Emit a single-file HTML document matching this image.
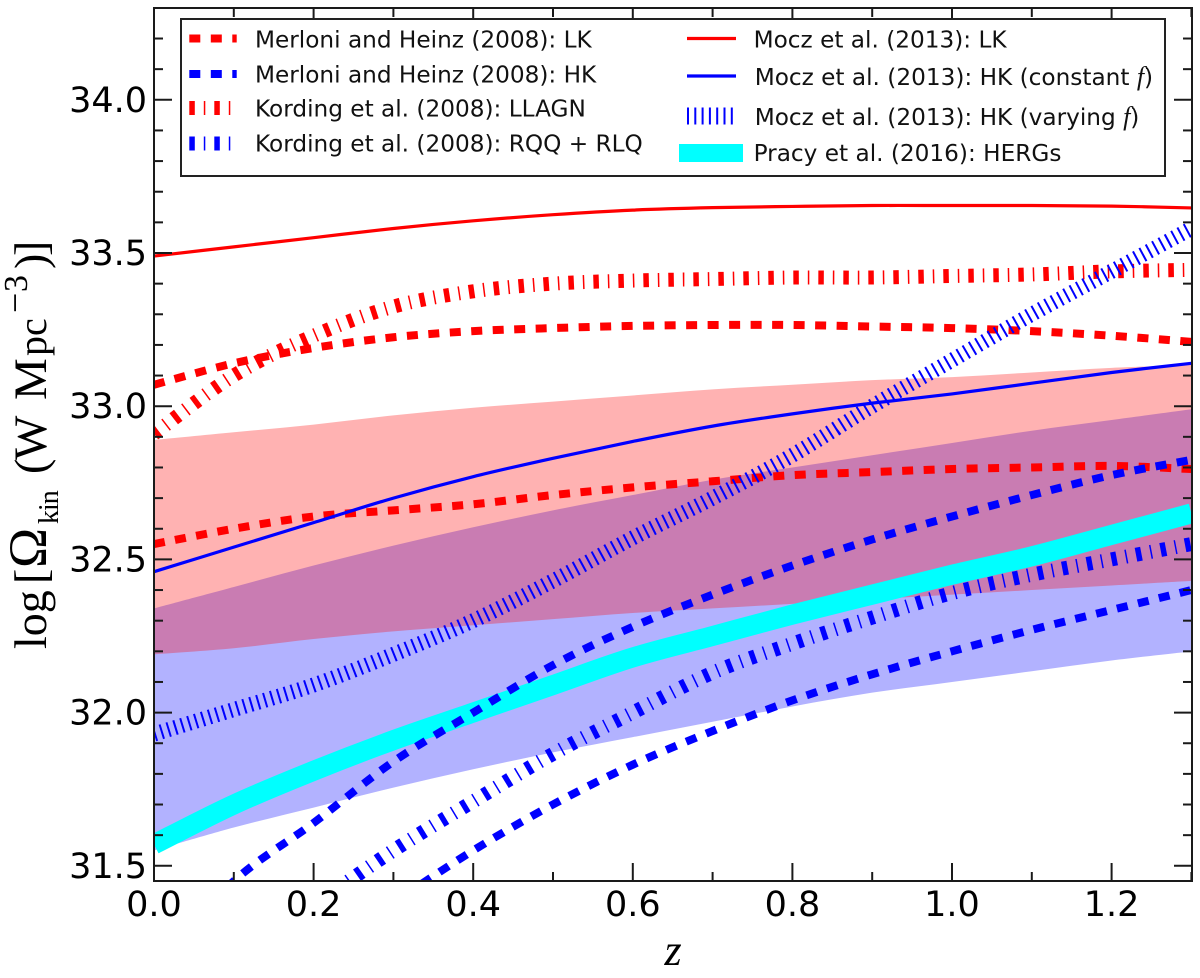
<!DOCTYPE html>
<html lang="en">
<head>
<meta charset="utf-8">
<title>Kinetic luminosity density vs redshift</title>
<style>
html,body{margin:0;padding:0;background:#fff;width:1200px;height:978px;overflow:hidden}
svg{display:block}
.tick{font-family:"DejaVu Sans",sans-serif;font-size:35px;fill:#000}
.leg{font-family:"DejaVu Sans",sans-serif;font-size:23.2px;fill:#111}
.math{font-family:"Liberation Serif",serif;fill:#000}
</style>
</head>
<body>
<svg id="chart" xmlns="http://www.w3.org/2000/svg" width="1200" height="978" viewBox="0 0 1200 978"></svg>
<script>
const zValues = [0,0.1,0.2,0.3,0.4,0.5,0.6,0.7,0.8,0.9,1.0,1.1,1.2,1.3];
const bandBlueUpper = [32.34,32.41,32.48,32.545,32.605,32.66,32.71,32.76,32.80,32.84,32.88,32.92,32.955,32.99];
const bandBlueLower = [31.55,31.625,31.69,31.755,31.815,31.87,31.92,31.97,32.02,32.065,32.10,32.135,32.17,32.20];
const bandRedUpper = [32.89,32.915,32.94,32.97,32.995,33.015,33.035,33.055,33.07,33.085,33.095,33.11,33.125,33.135];
const bandRedLower = [32.19,32.21,32.24,32.265,32.285,32.305,32.325,32.34,32.355,32.37,32.385,32.40,32.415,32.43];
const pracyHergs = [31.57,31.70,31.81,31.91,32.00,32.09,32.18,32.25,32.32,32.385,32.45,32.51,32.58,32.65];
const merloniLkUpper = [33.07,33.14,33.19,33.225,33.245,33.255,33.262,33.265,33.265,33.26,33.255,33.245,33.23,33.21];
const merloniLkLower = [32.55,32.60,32.64,32.66,32.68,32.71,32.735,32.755,32.775,32.785,32.795,32.80,32.805,32.795];
const kordingLlagn = [32.91,33.10,33.23,33.325,33.375,33.40,33.41,33.415,33.42,33.42,33.425,33.43,33.44,33.445];
const merloniHkUpper = [31.17,31.45,31.64,31.84,32.00,32.155,32.28,32.385,32.48,32.565,32.64,32.71,32.775,32.825];
const merloniHkLower = [30.85,31.03,31.21,31.38,31.55,31.70,31.83,31.94,32.04,32.125,32.20,32.27,32.335,32.40];
const kordingRqq = [31.00,31.19,31.37,31.55,31.71,31.865,32.00,32.13,32.225,32.31,32.39,32.45,32.50,32.55];
const moczLk = [33.49,33.52,33.55,33.58,33.605,33.625,33.64,33.648,33.652,33.655,33.655,33.655,33.653,33.647];
const moczHkConstant = [32.46,32.54,32.62,32.70,32.77,32.83,32.885,32.935,32.975,33.01,33.04,33.075,33.11,33.14];
const moczHkVarying = [31.93,32.01,32.09,32.19,32.30,32.43,32.57,32.70,32.84,33.00,33.15,33.30,33.44,33.58];
const xMajorTicks = [0,0.2,0.4,0.6,0.8,1.0,1.2];
const xMinorTicks = [0.1,0.3,0.5,0.7,0.9,1.1,1.3];
const yMajorTicks = [31.5,32.0,32.5,33.0,33.5,34.0];
const yMinorTicks = [31.6,31.7,31.8,31.9,32.1,32.2,32.3,32.4,32.6,32.7,32.8,32.9,33.1,33.2,33.3,33.4,33.6,33.7,33.8,33.9,34.1,34.2];

const NS = 'http://www.w3.org/2000/svg';
const svg = document.getElementById('chart');
const L = 154, R = 1192, T = 8, B = 881;
const xScale = z => L + z * 798;
const yScale = v => 253 - (v - 33.5) * 306.4;
const Y_VISIBLE_FLOOR = 31.16;

function mk(tag, attrs, parent, name) {
  const el = document.createElementNS(NS, tag);
  for (const k in attrs) el.setAttribute(k, attrs[k]);
  
  
  (parent || svg).appendChild(el);
  return el;
}
function spline(xs, ys, move) {
  const pts = xs.map((x, i) => [xScale(x), yScale(ys[i])]);
  let d = (move ? 'M' : 'L') + pts[0][0].toFixed(2) + ' ' + pts[0][1].toFixed(2);
  for (let i = 0; i < pts.length - 1; i++) {
    const p0 = pts[Math.max(0, i - 1)], p1 = pts[i], p2 = pts[i + 1], p3 = pts[Math.min(pts.length - 1, i + 2)];
    const c1 = [p1[0] + (p2[0] - p0[0]) / 6, p1[1] + (p2[1] - p0[1]) / 6];
    const c2 = [p2[0] - (p3[0] - p1[0]) / 6, p2[1] - (p3[1] - p1[1]) / 6];
    d += 'C' + c1[0].toFixed(2) + ' ' + c1[1].toFixed(2) + ' ' + c2[0].toFixed(2) + ' ' + c2[1].toFixed(2) + ' ' + p2[0].toFixed(2) + ' ' + p2[1].toFixed(2);
  }
  return d;
}
function band(upper, lower, fill, name) {
  const rz = zValues.slice().reverse();
  const rl = lower.slice().reverse();
  const d = spline(zValues, upper, true) + spline(rz, rl, false) + 'Z';
  mk('path', {d: d, fill: fill, 'fill-opacity': 0.3, stroke: 'none'}, plot, name);
}
const STYLE_DASH = {width: 8, dash: '11 10.5'};
const STYLE_KORDING = {width: 14, dash: '5.5 9 1.5 9'};
const STYLE_HATCH = {width: 15, dash: '2 5.2'};
const STYLE_SOLID = {width: 3.2, dash: 'none'};
const STYLE_BAND = {width: 20, dash: 'none'};
function curve(vals, color, style, name) {
  const keep = vals.map((v, i) => i).filter(i => vals[i] >= Y_VISIBLE_FLOOR);
  const xs = keep.map(i => zValues[i]);
  const ys = keep.map(i => vals[i]);
  mk('path', {d: spline(xs, ys, true), fill: 'none', stroke: color, 'stroke-width': style.width, 'stroke-dasharray': style.dash}, plot, name);
}

const defs = document.createElementNS(NS, 'defs');
svg.appendChild(defs);
const clip = document.createElementNS(NS, 'clipPath');
clip.setAttribute('id', 'plot-clip');
const clipRect = document.createElementNS(NS, 'rect');
clipRect.setAttribute('x', L); clipRect.setAttribute('y', T);
clipRect.setAttribute('width', R - L); clipRect.setAttribute('height', B - T);
clip.appendChild(clipRect); defs.appendChild(clip);

const plot = mk('g', {'clip-path': 'url(#plot-clip)'}, svg, 'plot-area');
band(bandBlueUpper, bandBlueLower, '#0000ff', 'blue-uncertainty-band');
band(bandRedUpper, bandRedLower, '#ff0000', 'red-uncertainty-band');
curve(pracyHergs, '#00ffff', STYLE_BAND, 'pracy-hergs-line');
curve(merloniLkUpper, '#ff0000', STYLE_DASH, 'merloni-lk-upper-line');
curve(merloniLkLower, '#ff0000', STYLE_DASH, 'merloni-lk-lower-line');
curve(kordingLlagn, '#ff0000', STYLE_KORDING, 'kording-llagn-line');
curve(moczLk, '#ff0000', STYLE_SOLID, 'mocz-lk-line');
curve(merloniHkUpper, '#0000ff', STYLE_DASH, 'merloni-hk-upper-line');
curve(merloniHkLower, '#0000ff', STYLE_DASH, 'merloni-hk-lower-line');
curve(kordingRqq, '#0000ff', STYLE_KORDING, 'kording-rqq-rlq-line');
curve(moczHkConstant, '#0000ff', STYLE_SOLID, 'mocz-hk-constant-line');
curve(moczHkVarying, '#0000ff', STYLE_HATCH, 'mocz-hk-varying-line');

const axisColor = '#1a1a1a';
const ticks = mk('g', {stroke: axisColor, 'stroke-width': 2}, svg, 'axis-ticks');
xMajorTicks.forEach(z => {
  const x = xScale(z);
  mk('line', {x1: x, x2: x, y1: B, y2: B - 18}, ticks, 'x-major-tick-bottom');
  mk('line', {x1: x, x2: x, y1: T, y2: T + 18}, ticks, 'x-major-tick-top');
  const t = mk('text', {x: x, y: 916, 'text-anchor': 'middle', class: 'tick', stroke: 'none'}, ticks, 'x-tick-label');
  t.textContent = z.toFixed(1);
});
xMinorTicks.forEach(z => {
  const x = xScale(z);
  mk('line', {x1: x, x2: x, y1: B, y2: B - 9}, ticks, 'x-minor-tick-bottom');
  mk('line', {x1: x, x2: x, y1: T, y2: T + 9}, ticks, 'x-minor-tick-top');
});
yMajorTicks.forEach(v => {
  const y = yScale(v);
  mk('line', {x1: L, x2: L + 18, y1: y, y2: y}, ticks, 'y-major-tick-left');
  mk('line', {x1: R, x2: R - 18, y1: y, y2: y}, ticks, 'y-major-tick-right');
  const t = mk('text', {x: 147, y: y + 12, 'text-anchor': 'end', class: 'tick', stroke: 'none'}, ticks, 'y-tick-label');
  t.textContent = v.toFixed(1);
});
yMinorTicks.forEach(v => {
  const y = yScale(v);
  mk('line', {x1: L, x2: L + 9, y1: y, y2: y}, ticks, 'y-minor-tick-left');
  mk('line', {x1: R, x2: R - 9, y1: y, y2: y}, ticks, 'y-minor-tick-right');
});
mk('rect', {x: L, y: T, width: R - L, height: B - T, fill: 'none', stroke: axisColor, 'stroke-width': 2}, svg, 'plot-frame');

const legend = mk('g', {}, svg, 'legend');
mk('rect', {x: 181, y: 19, width: 984, height: 157, fill: '#fff', stroke: '#222', 'stroke-width': 2}, legend, 'legend-box');
function legendEntry(x1, x2, y, color, style, textX, baseY, label, name) {
  const g = mk('g', {}, legend, name);
  mk('line', {x1: x1, x2: x2, y1: y, y2: y, stroke: color, 'stroke-width': style.width, 'stroke-dasharray': style.dash}, g, name + '-handle');
  const t = mk('text', {x: textX, y: baseY, class: 'leg'}, g, name + '-label');
  t.textContent = label;
  return t;
}
legendEntry(189.3, 236.7, 38.5, '#ff0000', STYLE_DASH, 255, 47.5, 'Merloni and Heinz (2008): LK', 'legend-entry-merloni-lk');
legendEntry(189.3, 236.7, 74, '#0000ff', STYLE_DASH, 255, 82.5, 'Merloni and Heinz (2008): HK', 'legend-entry-merloni-hk');
legendEntry(189.3, 233, 108, '#ff0000', STYLE_KORDING, 255, 116.5, 'Kording et al. (2008): LLAGN', 'legend-entry-kording-llagn');
legendEntry(189.3, 233, 143.5, '#0000ff', STYLE_KORDING, 255, 151.5, 'Kording et al. (2008): RQQ + RLQ', 'legend-entry-kording-rqq');
legendEntry(687, 736, 38.5, '#ff0000', STYLE_SOLID, 753.6, 47.5, 'Mocz et al. (2013): LK', 'legend-entry-mocz-lk');
const hkc = legendEntry(687, 736, 76, '#0000ff', STYLE_SOLID, 754.7, 85, 'Mocz et al. (2013): HK (constant ', 'legend-entry-mocz-hk-constant');
const hkv = legendEntry(687, 736, 116, '#0000ff', {width: 17, dash: '2 5.3'}, 754.7, 125, 'Mocz et al. (2013): HK (varying ', 'legend-entry-mocz-hk-varying');
[hkc, hkv].forEach(t => {
  const f = document.createElementNS(NS, 'tspan');
  f.setAttribute('font-family', '"Liberation Serif", serif');
  f.setAttribute('font-style', 'italic');
  f.setAttribute('font-size', '26');
  f.textContent = 'f';
  t.appendChild(f);
  t.appendChild(document.createTextNode(')'));
});
legendEntry(679, 743, 153, '#00ffff', {width: 18, dash: 'none'}, 753.6, 161, 'Pracy et al. (2016): HERGs', 'legend-entry-pracy-hergs');

const ylab = mk('text', {transform: 'rotate(-90)', class: 'math', 'font-size': 46}, svg, 'y-axis-title');
const yParts = [
  ['log', 649, 46, 46],
  ['[', 584, 46, 46],
  ['\u03A9', 568, 46, 54],
  ['kin', 524, 58, 28],
  ['(', 474, 46, 46],
  ['W', 460, 46, 47],
  ['M', 400, 46, 47],
  ['pc', 356, 46, 40],
  ['\u2212', 313, 27, 36],
  ['3', 292, 27, 34],
  [')', 269, 46, 46],
  [']', 256, 46, 46]
];
yParts.forEach(p => {
  const s = document.createElementNS(NS, 'tspan');
  s.setAttribute('x', -p[1]);
  s.setAttribute('y', p[2]);
  s.setAttribute('font-size', p[3]);
  if (p[0] === 'kin') s.setAttribute('letter-spacing', '-1');
  s.textContent = p[0];
  ylab.appendChild(s);
});
const xlab = mk('text', {x: 673, y: 965, 'text-anchor': 'middle', class: 'math', 'font-size': 44, 'font-style': 'italic'}, svg, 'x-axis-title');
xlab.textContent = 'z';
</script>
</body>
</html>
